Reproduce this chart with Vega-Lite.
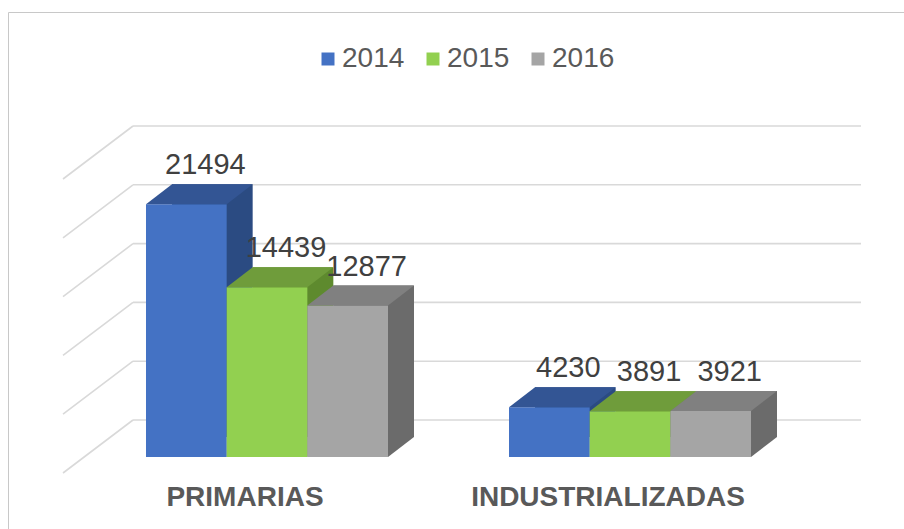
{
  "$schema": "https://vega.github.io/schema/vega-lite/v6.json",
  "width": 896,
  "height": 517,
  "autosize": {"type": "none"},
  "padding": {"left": 8, "top": 12, "right": 0, "bottom": 0},
  "background": "white",
  "config": {"view": {"stroke": "#C8C8C8", "strokeWidth": 1}, "font": "Liberation Sans"},
  "data": {
    "values": [
      {"cat": "PRIMARIAS", "year": "2014", "value": 21494},
      {"cat": "PRIMARIAS", "year": "2015", "value": 14439},
      {"cat": "PRIMARIAS", "year": "2016", "value": 12877},
      {"cat": "INDUSTRIALIZADAS", "year": "2014", "value": 4230},
      {"cat": "INDUSTRIALIZADAS", "year": "2015", "value": 3891},
      {"cat": "INDUSTRIALIZADAS", "year": "2016", "value": 3921}
    ]
  },
  "encoding": {
    "x": {
      "field": "cat", "type": "nominal",
      "scale": {"domain": ["PRIMARIAS", "INDUSTRIALIZADAS"], "range": [125, 853], "paddingInner": 0.3333, "paddingOuter": 0.1694, "align": 0.1057},
      "axis": null
    },
    "y": {
      "field": "value", "type": "quantitative",
      "scale": {"domain": [0, 25000], "range": [408, 114], "nice": false, "zero": true},
      "axis": null
    }
  },
  "layer": [
    {
      "data": {"values": [{"g": 0}, {"g": 5000}, {"g": 10000}, {"g": 15000}, {"g": 20000}, {"g": 25000}]},
      "mark": {"type": "point", "shape": "M-134,0 L594,0 M-134,0 L-204,53", "size": 4, "filled": false, "stroke": "#D9D9D9", "strokeWidth": 1.6, "opacity": 1},
      "encoding": {
        "x": {"datum": "PRIMARIAS", "type": "nominal", "axis": null},
        "y": {"field": "g", "type": "quantitative", "axis": null}
      }
    },
    {
      "mark": {"type": "bar", "yOffset": 17, "y2Offset": 17},
      "encoding": {
        "xOffset": {"field": "year", "type": "nominal", "scale": {"range": [26, 268]}},
        "color": {"field": "year", "type": "nominal", "scale": {"range": ["#2B4B82", "#5E8A2E", "#6B6B6B"]}, "legend": null}
      }
    },
    {
      "mark": {"type": "point", "shape": "M40.33,0 L66.33,-20 L40.33,-20 Z", "size": 4, "filled": true, "strokeWidth": 0, "opacity": 1, "yOffset": 37},
      "encoding": {
        "y": {"datum": 0, "type": "quantitative", "axis": null},
        "xOffset": {"field": "year", "type": "nominal"},
        "color": {"field": "year", "type": "nominal", "scale": {"range": ["#2B4B82", "#5E8A2E", "#6B6B6B"]}, "legend": null}
      }
    },
    {
      "mark": {"type": "bar", "yOffset": 37, "y2Offset": 37},
      "encoding": {
        "xOffset": {"field": "year", "type": "nominal"},
        "color": {
          "field": "year", "type": "nominal",
          "scale": {"range": ["#4472C4", "#92D050", "#A5A5A5"]},
          "legend": {"orient": "none", "legendX": 306, "legendY": 33, "direction": "horizontal", "title": null, "symbolType": "square", "symbolSize": 169, "symbolStrokeWidth": 0, "labelFontSize": 28, "labelColor": "#595959", "labelOffset": 0, "columnPadding": 14, "labelFont": "Liberation Sans"}
        }
      }
    },
    {
      "mark": {"type": "point", "shape": "M-40.33,0 L40.33,0 L66.33,-20 L-14.33,-20 Z", "size": 4, "filled": true, "strokeWidth": 0, "opacity": 1, "yOffset": 37},
      "encoding": {
        "xOffset": {"field": "year", "type": "nominal"},
        "color": {"field": "year", "type": "nominal", "scale": {"range": ["#335594", "#6F9C3B", "#808080"]}, "legend": null}
      }
    },
    {
      "mark": {"type": "text", "yOffset": 7, "dx": 19, "align": "center", "baseline": "alphabetic", "fontSize": 29, "color": "#404040", "font": "Liberation Sans"},
      "encoding": {
        "xOffset": {"field": "year", "type": "nominal"},
        "text": {"field": "value", "type": "quantitative", "format": "d"}
      }
    },
    {
      "transform": [{"filter": "datum.year === '2015'"}],
      "mark": {"type": "text", "yOffset": 78, "dx": -22, "align": "center", "baseline": "middle", "fontSize": 28, "fontWeight": "bold", "color": "#595959", "font": "Liberation Sans"},
      "encoding": {
        "y": {"datum": 0, "type": "quantitative", "axis": null},
        "text": {"field": "cat", "type": "nominal"}
      }
    }
  ],
  "resolve": {"scale": {"color": "independent", "xOffset": "independent"}}
}
